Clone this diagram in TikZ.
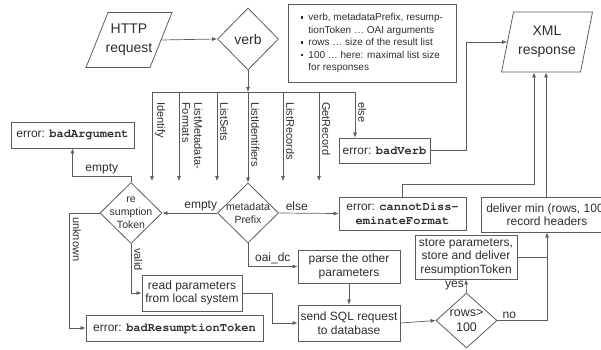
\documentclass[tikz,border=0pt]{standalone}
\usepackage[T1]{fontenc}
\usepackage{fontspec}
\setmainfont{Liberation Sans}
\usetikzlibrary{arrows.meta,shapes.geometric}
\newcommand{\oaicode}[1]{{\fontencoding{T1}\fontfamily{pcr}\fontseries{b}\selectfont #1}}
\newcommand{\notebullet}{\raisebox{2pt}{\rule{2.4pt}{2.4pt}}}
\definecolor{flowink}{HTML}{2E2E2E}
\definecolor{flowline}{HTML}{5C5C5C}

\begin{document}
\begin{tikzpicture}[
  x=1pt,
  y=-1pt,
  every node/.style={text=flowink, font=\fontsize{12}{13.5}\selectfont},
  conn/.style={flowline, line width=0.7pt},
  arr/.style={conn, -{Latex[length=5pt, width=4pt]}},
  stepbox/.style={draw=flowline, line width=0.8pt, inner sep=2pt, align=center},
  decision/.style={diamond, draw=flowline, line width=0.8pt, inner sep=0pt},
  iobox/.style={rectangle, draw=flowline, line width=0.8pt, inner sep=0pt},
  iotext/.style={align=center, inner sep=0pt, font=\fontsize{14}{19}\selectfont},
  dtext/.style={align=center, inner sep=0pt, font=\fontsize{10.5}{13}\selectfont},
  vlabel/.style={rotate=-90, anchor=south west, align=left, inner sep=1pt,
                 font=\fontsize{11}{12}\selectfont},
  elabel/.style={inner sep=2pt}
]
  \useasboundingbox (0,0) rectangle (601,349);

  % ---- input / output ----
  \node[iobox, xslant=0.4, minimum width=64pt, minimum height=55pt] (http) at (129,40) {};
  \node[iotext] (http-txt) at (http) {HTTP\\request};
  \node[iobox, xslant=0.2, minimum width=79pt, minimum height=60pt] (xml) at (547,42) {};
  \node[iotext] (xml-txt) at (xml) {XML\\response};

  % ---- decisions ----
  \node[decision, minimum width=61pt, minimum height=62pt] (verb) at (248,39) {};
  \node[iotext] (verb-txt) at (verb) {verb};
  \node[decision, minimum width=61pt, minimum height=60pt] (mp) at (248,213) {};
  \node[dtext] (mp-txt) at (mp) {metadata\\Prefix};
  \node[decision, minimum width=62pt, minimum height=61pt] (rt) at (131,213) {};
  \node[dtext] (rt-txt) at (rt) {re\\sumption\\Token};
  \node[decision, minimum width=61pt, minimum height=55pt] (rows) at (466.5,320.5) {};
  \node[dtext, font=\fontsize{12.5}{15}\selectfont] (rows-txt) at (rows) {rows>\\100};

  % ---- legend ----
  \node[stepbox, align=left, minimum width=168pt, minimum height=78pt,
        font=\fontsize{10}{12.5}\selectfont] (legend) at (372,43) {%
    \begin{tabular}{@{}l@{\hspace{5pt}}l@{}}
      \notebullet & verb, metadataPrefix, resump-\\
                  & tionToken \dots\ OAI arguments\\
      \notebullet & rows \dots\ size of the result list\\
      \notebullet & 100 \dots\ here: maximal list size\\
                  & for responses
    \end{tabular}};

  % ---- process and error boxes ----
  \node[stepbox, minimum width=123pt, minimum height=26pt] (badarg) at (72.5,135)
    {error: \oaicode{badArgument}};
  \node[stepbox, minimum width=91pt, minimum height=25pt] (badverb) at (384.5,150.5)
    {error: \oaicode{badVerb}};
  \node[stepbox, minimum width=127pt, minimum height=33pt] (cdf) at (402.5,213.5)
    {error: \oaicode{cannotDiss-}\\\oaicode{eminateFormat}};
  \node[stepbox, minimum width=132pt, minimum height=35pt] (deliver) at (547,214.5)
    {deliver min (rows, 100)\\record headers};
  \node[stepbox, minimum width=102pt, minimum height=44pt] (store) at (466,257)
    {store parameters,\\store and deliver\\resumptionToken};
  \node[stepbox, minimum width=102pt, minimum height=33pt] (parse) at (349,266.5)
    {parse the other\\parameters};
  \node[stepbox, minimum width=102pt, minimum height=36pt] (sql) at (349,323)
    {send SQL request\\to database};
  \node[stepbox, minimum width=100pt, minimum height=36pt] (rp) at (192,293)
    {read parameters\\from local system};
  \node[stepbox, minimum width=177pt, minimum height=26pt] (brt) at (174.5,328)
    {error: \oaicode{badResumptionToken}};

  % ---- verb bus ----
  \foreach \x [count=\i] in {152,179,217,248,283,319,355}
    \coordinate (bus\i) at (\x,92);
  \draw[arr] (http.east) -- (verb.west);
  \draw[arr] (verb.south) -- (bus4);
  \draw[conn] (bus1) -- (bus7);
  \foreach \i/\lbl in {1/Identify, 2/{ListMetadata-\\Formats}, 3/ListSets,
                       5/ListRecords, 6/GetRecord}{
    \coordinate (end\i) at ([yshift=-89pt]bus\i);
    \draw[arr] (bus\i) -- (end\i);
    \node[vlabel] (lbl\i) at ([xshift=2pt, yshift=-9pt]bus\i) {\lbl};
  }
  \draw[arr] (bus4) -- (mp.north);
  \node[vlabel] (lbl4) at ([xshift=2pt, yshift=-9pt]bus4) {ListIdentifiers};
  \draw[arr] (bus7) -- (bus7 |- badverb.north);
  \node[vlabel] (lbl7) at ([xshift=2pt, yshift=-9pt]bus7) {else};

  % ---- metadataPrefix / resumptionToken ----
  \draw[arr] (mp.west) -- node[above, elabel, pos=0.3] (lbl-empty) {empty} (rt.east);
  \draw[arr] (mp.east) -- node[above, elabel, pos=0.3] (lbl-else) {else} (cdf.west);
  \draw[arr] (mp.south) |- node[above, elabel, pos=0.75] (lbl-oai) {oai\_dc} (parse.west);
  \draw[arr] (rt.north) -- ++(0,-6) -| node[above, elabel, pos=0.25] (lbl-empty2) {empty}
    (badarg.south);
  \draw[arr] (rt.west) -- ++(-30,0) coordinate (rt-knee) |- (brt.west);
  \node[vlabel] (lbl-unknown) at ([xshift=2pt, yshift=-3pt]rt-knee) {unknown};
  \draw[arr] (rt.south) |- (rp.west);
  \node[vlabel] (lbl-valid) at ([xshift=2pt, yshift=-3pt]rt.south) {valid};

  % ---- query and response ----
  \draw[arr] (rp.east) -- ++(30,0) |- (sql.west);
  \draw[arr] (parse.south) -- (sql.north);
  \draw[arr] (sql.east) -- (rows.west);
  \draw[arr] (rows.north) -- node[left, elabel] (lbl-yes) {yes} (store.south);
  \draw[arr] (rows.east) -| node[above, elabel, pos=0.12] (lbl-no) {no} (deliver.south);
  \draw[conn] (store.east) -- (store.east -| deliver.south);

  % ---- into the XML response ----
  \draw[arr] (badverb.east) -- ++(36,0) |- (xml.west);
  \draw[arr] (cdf.north) -- ++(0,-12) -| ([xshift=-13pt]xml.center |- xml.south);
  \draw[arr] ([xshift=-1pt]xml.center |- deliver.north) -- ([xshift=-1pt]xml.center |- xml.south);
\end{tikzpicture}
\end{document}
